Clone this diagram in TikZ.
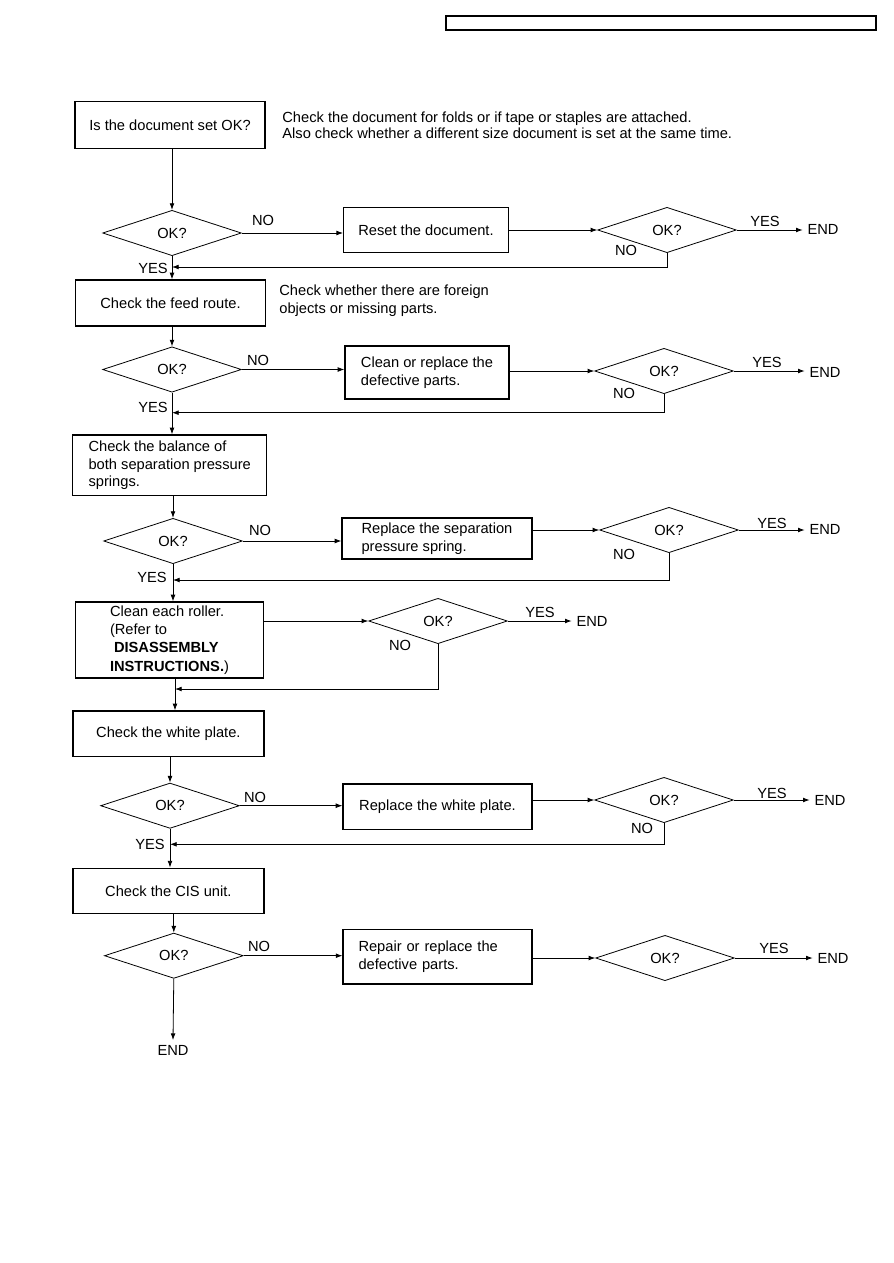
\documentclass[tikz,border=0pt]{standalone}
\usepackage{fontspec}
\setmainfont{Liberation Sans}
\usetikzlibrary{shapes.geometric,arrows.meta}

\begin{document}
\begin{tikzpicture}[x=0.75pt,y=-0.75pt,line width=0.6pt,>={Latex[length=5pt,width=3.6pt]},
  every node/.style={font=\fontsize{11}{13.3}\selectfont},
  box/.style={draw,line width=0.9pt,inner sep=0pt,align=center},
  dia/.style={draw,diamond,minimum width=104pt,minimum height=34pt,inner sep=0pt},
  txt/.style={inner sep=0pt,anchor=west,align=left}]
  \useasboundingbox (0,0) rectangle (893,1263);
  \draw[line width=0.8pt] (446,16) rectangle (876,30);

  \node[box,minimum width=142.5pt,minimum height=35pt] (b1) at (170,125) {Is the document set OK?};
  \node[txt,font=\fontsize{11}{12.3}\selectfont] (n1) at (282,125) {Check the document for folds or if tape or staples are attached.\\Also check whether a different size document is set at the same time.};
  \node[dia] (d1) at (172,233) {OK?};
  \node[box,minimum width=123.5pt,minimum height=33.75pt] (r1) at (426,230) {Reset the document.};
  \node[dia] (e1) at (667,230) {OK?};
  \node (end1) at (823,229) {END};
  \node (no1) at (263,220) {NO}; \node (no1b) at (626,250) {NO};
  \node (yes1) at (765,221) {YES}; \node (yes1b) at (153,268) {YES};
  \coordinate (j1) at (172,267);
  \draw[->] (b1.south -| d1.north) -- (d1.north);
  \draw[->] (d1.east) -- (d1.east -| r1.west); \draw[->] (r1.east) -- (e1.west);
  \draw[->] (e1.east) -- (e1.east -| end1.west); \draw[->] (e1.south) |- (j1);

  \node[box,minimum width=142.5pt,minimum height=34.5pt] (b2) at (170.5,303) {Check the feed route.};
  \node[txt] (n2) at (279,300.5) {Check whether there are foreign\\objects or missing parts.};
  \node[dia] (d2) at (172,369.5) {OK?};
  \node[box,align=left,minimum width=123pt,minimum height=39.75pt] (r2) at (427,372.5) {Clean or replace the\\defective parts.};
  \node[dia] (e2) at (664,371) {OK?};
  \node (end2) at (825,372) {END};
  \node (no2) at (258,360) {NO}; \node (no2b) at (624,393) {NO};
  \node (yes2) at (767,362) {YES}; \node (yes2b) at (153,407) {YES};
  \coordinate (j2) at (172,412.7);
  \draw[->] (d1.south) -- (b2.north -| d1.south);
  \draw[->] (b2.south -| d2.north) -- (d2.north);
  \draw[->] (d2.east) -- (d2.east -| r2.west); \draw[->] (r2.east |- e2.west) -- (e2.west);
  \draw[->] (e2.east) -- (e2.east -| end2.west); \draw[->] (e2.south) |- (j2);

  \node[box,align=left,minimum width=145.5pt,minimum height=45.5pt] (b3) at (169.7,465.3) {Check the balance of\\both separation pressure\\springs.};
  \node[dia] (d3) at (173,541) {OK?};
  \node[box,align=left,minimum width=142.5pt,minimum height=30.75pt] (r3) at (437,538.5) {Replace the separation\\pressure spring.};
  \node[dia] (e3) at (669,530) {OK?};
  \node (end3) at (825,529) {END};
  \node (no3) at (260,530) {NO}; \node (no3b) at (624,554) {NO};
  \node (yes3) at (772,523) {YES}; \node (yes3b) at (152,577) {YES};
  \coordinate (j3) at (173,580);
  \draw[->] (d2.south) -- (b3.north -| d2.south);
  \draw[->] (b3.south -| d3.north) -- (d3.north);
  \draw[->] (d3.east) -- (d3.east -| r3.west); \draw[->] (r3.east |- e3.west) -- (e3.west);
  \draw[->] (e3.east) -- (e3.east -| end3.west); \draw[->] (e3.south) |- (j3);

  \node[box,align=left,minimum width=141pt,minimum height=57pt,font=\fontsize{11}{13.7}\selectfont] (b4) at (169.5,640) {Clean each roller.\\(Refer to\\\hspace{3pt}\textbf{DISASSEMBLY}\\\textbf{INSTRUCTIONS.})};
  \node[dia] (e4) at (438,621) {OK?};
  \node (end4) at (592,621) {END};
  \node (yes4) at (540,612) {YES}; \node (no4) at (400,645) {NO};
  \coordinate (j4) at (175,689);
  \draw[->] (d3.south) -- (b4.north -| d3.south);
  \draw[->] (b4.east |- e4.west) -- (e4.west);
  \draw[->] (e4.east) -- (e4.east -| end4.west); \draw[->] (e4.south) |- (j4);

  \node[box,minimum width=143.25pt,minimum height=34.3pt] (b5) at (168.4,733.8) {Check the white plate.};
  \node[dia] (d5) at (170,805.7) {OK?};
  \node[box,minimum width=141.75pt,minimum height=34pt] (r5) at (437.5,806.7) {Replace the white plate.};
  \node[dia] (e5) at (664,800) {OK?};
  \node (end5) at (830,800) {END};
  \node (no5) at (255,797) {NO}; \node (no5b) at (642,828) {NO};
  \node (yes5) at (772,793) {YES}; \node (yes5b) at (150,844) {YES};
  \coordinate (j5) at (170,844.3);
  \draw[->] (b4.south -| j4) -- (b5.north -| j4);
  \draw[->] (b5.south -| d5.north) -- (d5.north);
  \draw[->] (d5.east) -- (d5.east -| r5.west); \draw[->] (r5.east |- e5.west) -- (e5.west);
  \draw[->] (e5.east) -- (e5.east -| end5.west); \draw[->] (e5.south) |- (j5);

  \node[box,minimum width=143.25pt,minimum height=34.3pt] (b6) at (168.4,891) {Check the CIS unit.};
  \node[dia] (d6) at (173.8,955.7) {OK?};
  \node[box,align=left,text width=118.5pt,inner xsep=11.6pt,minimum height=41pt] (r6) at (437.5,956.7) {Repair or replace the\\defective parts.};
  \node[dia] (e6) at (665,958) {OK?};
  \node (end6) at (833,958) {END};
  \node (no6) at (259,946) {NO}; \node (yes6) at (774,948) {YES};
  \node (endb) at (173,1050) {END};
  \draw[->] (d5.south) -- (b6.north -| d5.south);
  \draw[->] (b6.south -| d6.north) -- (d6.north);
  \draw[->] (d6.east) -- (d6.east -| r6.west); \draw[->] (r6.east |- e6.west) -- (e6.west);
  \draw[->] (e6.east) -- (e6.east -| end6.west); \draw[->] (d6.south) -- (endb.north);
\end{tikzpicture}
\end{document}
